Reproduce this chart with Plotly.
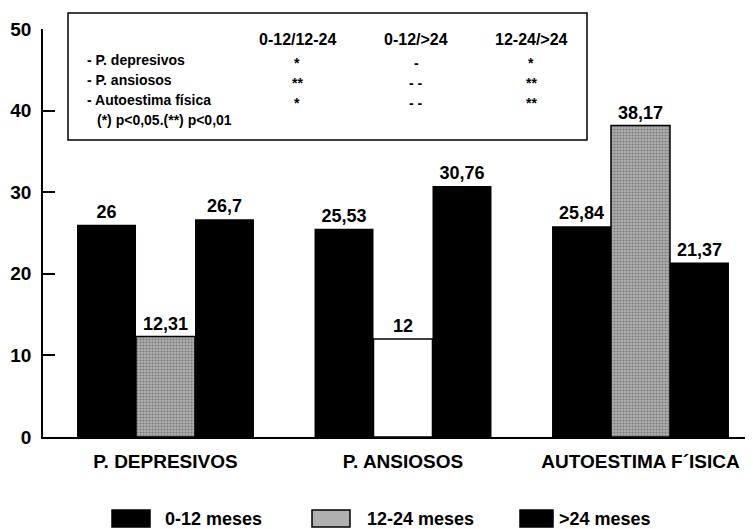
import plotly.graph_objects as go

categories = ["P. DEPRESIVOS", "P. ANSIOSOS", "AUTOESTIMA F´ISICA"]
series_names = ["0-12 meses", "12-24 meses", ">24 meses"]
v_0_12 = [26, 25.53, 25.84]
v_12_24 = [12.31, 12, 38.17]
v_24 = [26.7, 30.76, 21.37]
y_ticks = [0, 10, 20, 30, 40, 50]

table_cols = ["0-12/12-24", "0-12/>24", "12-24/>24"]
table_rows = ["- P. depresivos", "- P. ansiosos", "- Autoestima física"]
table_marks = [["*", "-", "*"], ["**", "- -", "**"], ["*", "- -", "**"]]
footnote = "(*) p<0,05.(**) p<0,01"

FONT = "Liberation Sans, Arial, sans-serif"
OFF = 8  # page body margin
W, H = 753 - OFF, 529 - OFF
# target pixel positions in the window
L_WIN, T_WIN, AX_Y, RIGHT_WIN = 43, 29, 437, 753
L, T = L_WIN - OFF, T_WIN - OFF
R = 0
B = H - (AX_Y - OFF)
PW, PH = W - L - R, H - T - B


def px(x):
    return (x - OFF - L) / PW


def py(y):
    return (AX_Y - y) / PH


def lab(v):
    return f"{v:g}".replace(".", ",")


# x range: group centers at 165.5, 403.5, 640.5 window px (spacing 237.5)
x_lo = -(165.5 - L_WIN) / 237.5
x_hi = x_lo + PW / 237.5

fig = go.Figure()
fig.add_bar(x=categories, y=v_0_12, name=series_names[0],
            marker=dict(color="black", line=dict(color="black", width=0)),
            text=[lab(v) for v in v_0_12])
fig.add_bar(x=categories, y=v_12_24, name=series_names[1],
            marker=dict(color=["#b0b0b0", "white", "#b0b0b0"],
                        line=dict(color="black", width=1.5),
                        pattern=dict(shape=[".", "", "."], fgcolor="#505050",
                                     size=3, solidity=0.4)),
            text=[lab(v) for v in v_12_24])
fig.add_bar(x=categories, y=v_24, name=series_names[2],
            marker=dict(color="black", line=dict(color="black", width=0)),
            text=[lab(v) for v in v_24])
fig.update_traces(textposition="outside", cliponaxis=False,
                  textfont=dict(family=FONT, size=18, color="black", weight="bold"))

fig.update_layout(
    width=W, height=H,
    margin=dict(l=L, r=R, t=T, b=B, pad=0),
    paper_bgcolor="white", plot_bgcolor="white",
    barmode="group", bargap=0.255, bargroupgap=0,
    showlegend=False,
    font=dict(family=FONT, color="black", weight="bold"),
    xaxis=dict(range=[x_lo, x_hi], showgrid=False, showline=True,
               linecolor="black", linewidth=2, ticks="",
               tickfont=dict(family=FONT, size=19, color="black", weight="bold"),
               ticklabelstandoff=6),
    yaxis=dict(range=[0, 50], tickvals=y_ticks, showgrid=False, zeroline=False,
               showline=True, linecolor="black", linewidth=1.5,
               ticks="inside", ticklen=12, tickwidth=1.5, tickcolor="black",
               tickfont=dict(family=FONT, size=19, color="black", weight="bold"),
               ticklabelstandoff=6),
)

# Inset significance table
fig.add_shape(type="rect", xref="paper", yref="paper",
              x0=px(68), x1=px(587), y0=py(140), y1=py(13),
              line=dict(color="black", width=1.5), fillcolor="white", layer="above")
col_x = [297, 416, 531]
row_y = [60, 80, 100]
for cx, name in zip(col_x, table_cols):
    fig.add_annotation(xref="paper", yref="paper", x=px(cx), y=py(39), text=name,
                       showarrow=False, xanchor="center", yanchor="middle",
                       font=dict(family=FONT, size=16, color="black", weight="bold"))
for ry, name, marks in zip(row_y, table_rows, table_marks):
    fig.add_annotation(xref="paper", yref="paper", x=px(85), y=py(ry), text=name,
                       showarrow=False, xanchor="left", yanchor="middle",
                       font=dict(family=FONT, size=14, color="black", weight="bold"))
    for cx, m in zip(col_x, marks):
        fig.add_annotation(xref="paper", yref="paper", x=px(cx), y=py(ry + 3), text=m,
                           showarrow=False, xanchor="center", yanchor="middle",
                           font=dict(family=FONT, size=14, color="black", weight="bold"))
fig.add_annotation(xref="paper", yref="paper", x=px(95), y=py(120), text=footnote,
                   showarrow=False, xanchor="left", yanchor="middle",
                   font=dict(family=FONT, size=14, color="black", weight="bold"))

# Custom legend
legend_items = [
    (112, 150, "black", 163),
    (312, 350, "#b0b0b0", 365),
    (520, 553, "black", 557),
]
for (x0, x1, col, tx), name in zip(legend_items, series_names):
    fig.add_shape(type="rect", xref="paper", yref="paper",
                  x0=px(x0), x1=px(x1), y0=py(527), y1=py(510),
                  line=dict(color="black", width=1.5), fillcolor=col)
    fig.add_annotation(xref="paper", yref="paper", x=px(tx), y=py(519), text=name,
                       showarrow=False, xanchor="left", yanchor="middle",
                       font=dict(family=FONT, size=18, color="black", weight="bold"))

fig.write_html("out.html")
